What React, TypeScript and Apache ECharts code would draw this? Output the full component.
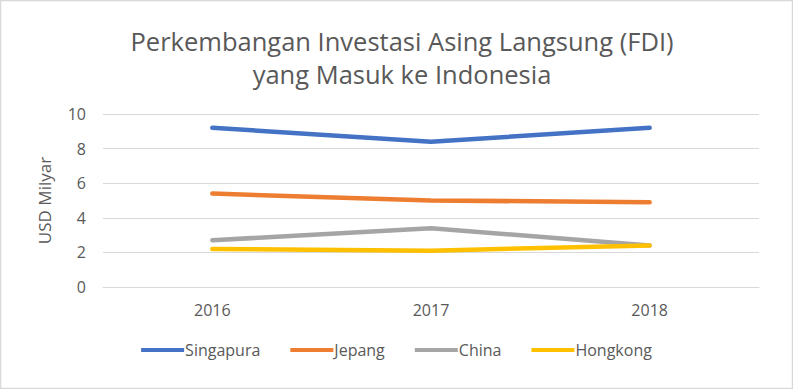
import React, { useEffect, useRef } from "react";
import * as echarts from "echarts";

const categories = ["2016", "2017", "2018"];
const singapura = [9.2, 8.4, 9.2];
const jepang = [5.4, 5.0, 4.9];
const china = [2.7, 3.4, 2.4];
const hongkong = [2.2, 2.1, 2.4];
const seriesNames = ["Singapura", "Jepang", "China", "Hongkong"];
const colors = ["#4472C4", "#ED7D31", "#A5A5A5", "#FFC000"];

const FONT = "'Open Sans', sans-serif";

export default function App() {
  const ref = useRef<HTMLDivElement>(null);
  useEffect(() => {
    document.body.style.margin = "0";
    const chart = echarts.init(ref.current!, null, { renderer: "svg" });
    const data = [singapura, jepang, china, hongkong];
    chart.setOption({
      animation: false,
      backgroundColor: "#ffffff",
      textStyle: { fontFamily: FONT },
      title: {
        text: "Perkembangan Investasi Asing Langsung (FDI)\nyang Masuk ke Indonesia",
        left: 397,
        top: 19,
        textAlign: "center",
        textStyle: {
          fontFamily: FONT,
          fontSize: 25.5,
          fontWeight: "normal",
          color: "#595959",
          lineHeight: 33,
        },
      },
      graphic: [
        {
          type: "rect",
          shape: { x: 0.5, y: 0.5, width: 792, height: 388 },
          style: { fill: "none", stroke: "#D9D9D9", lineWidth: 1.5 },
          silent: true,
        },
      ],
      legend: {
        bottom: 26,
        left: "center",
        itemWidth: 43,
        itemHeight: 4,
        itemGap: 30,
        icon: "rect",
        data: seriesNames,
        textStyle: { fontFamily: FONT, fontSize: 16, color: "#595959", padding: [0, 0, 0, -4] },
      },
      grid: { left: 103, right: 34, top: 114, bottom: 102 },
      xAxis: {
        type: "category",
        data: categories,
        boundaryGap: true,
        axisTick: { show: false },
        axisLine: { lineStyle: { color: "#D9D9D9", width: 1 } },
        axisLabel: { color: "#595959", fontSize: 16, fontFamily: FONT, margin: 15 },
      },
      yAxis: {
        type: "value",
        min: 0,
        max: 10,
        interval: 2,
        name: "USD Milyar",
        nameLocation: "middle",
        nameGap: 50,
        nameTextStyle: { color: "#595959", fontSize: 17, fontFamily: FONT },
        axisLine: { show: false },
        axisTick: { show: false },
        axisLabel: { color: "#595959", fontSize: 16, fontFamily: FONT, margin: 17 },
        splitLine: { lineStyle: { color: "#D9D9D9", width: 1 } },
      },
      series: seriesNames.map((name, i) => ({
        name,
        type: "line",
        data: data[i],
        symbol: "none",
        color: colors[i],
        lineStyle: { width: 4.5, color: colors[i], cap: "round", join: "round" },
      })),
    });
    return () => chart.dispose();
  }, []);
  return <div ref={ref} style={{ width: 793, height: 389 }} />;
}
